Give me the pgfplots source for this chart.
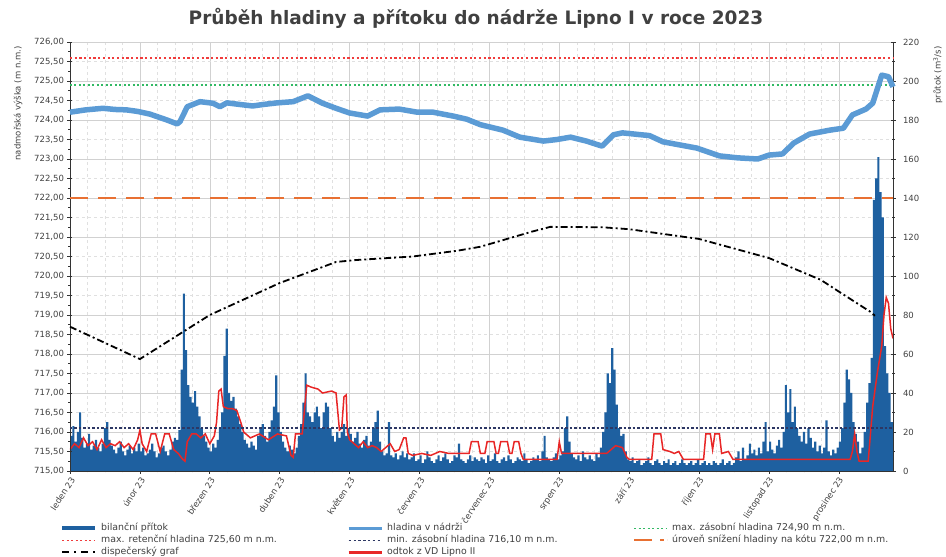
\documentclass[border=0pt]{standalone}
\usepackage{fontspec}
\setmainfont{DejaVu Sans}
\usepackage{pgfplots}
\pgfplotsset{compat=1.18}
\definecolor{barblue}{RGB}{30,96,160}
\definecolor{levelblue}{RGB}{91,155,213}
\definecolor{redline}{RGB}{232,38,38}
\definecolor{orangeln}{RGB}{232,112,50}
\definecolor{greendot}{RGB}{50,185,100}
\definecolor{reddot}{RGB}{240,60,60}
\definecolor{navydot}{RGB}{45,55,100}
\definecolor{txtgray}{RGB}{64,64,64}
\begin{document}
\color{txtgray}%
\begin{tikzpicture}
\path[use as bounding box] (-70pt,-86pt) rectangle (876pt,471pt);
% ---------------- right axis: inflow bars and outflow line ----------------
\begin{axis}[
  scale only axis, width=823pt, height=429pt,
  xmin=0, xmax=365, ymin=0, ymax=220,
  axis x line*=bottom, axis y line*=right,
  xtick={0,31,62,93,124,155,186,217,248,279,310,341},
  xticklabels={leden 23,únor 23,březen 23,duben 23,květen 23,červen 23,červenec 23,srpen 23,září 23,říjen 23,listopad 23,prosinec 23},
  minor x tick num=3,
  ytick={0,20,40,60,80,100,120,140,160,180,200,220},
  minor y tick num=1,
  grid=both,
  major grid style={black!18, line width=0.4pt},
  minor grid style={black!12, dashed, line width=0.4pt},
  tick align=center,
  major tick length=5pt, minor tick length=3pt,
  tick style={black!80, line width=0.6pt},
  axis line style={black!80, line width=0.8pt},
  /pgf/number format/assume math mode=true,
  yticklabel style={font=\fontsize{8.5}{10}\selectfont, anchor=west, xshift=4pt},
  xticklabel style={font=\fontsize{8.5}{10}\selectfont, rotate=57, anchor=east, xshift=1pt, yshift=-5pt},
  clip=true,
]
\addplot[ybar, bar width=0.95, bar shift=0pt, fill=barblue, draw=none]
 table[header=false, row sep=\\, x expr=\coordindex+0.5, y index=0] {
18\\23\\15\\20\\30\\17\\12\\14\\19\\11\\13\\16\\12\\10\\14\\22\\25\\16\\13\\11\\9\\12\\15\\10\\8\\11\\13\\9\\12\\10\\14\\
10\\12\\8\\9\\11\\14\\10\\7\\9\\12\\13\\10\\8\\11\\15\\17\\16\\21\\52\\91\\62\\44\\38\\35\\41\\33\\28\\22\\
18\\15\\12\\10\\14\\12\\16\\22\\30\\59\\73\\40\\36\\38\\32\\28\\24\\20\\16\\14\\12\\15\\13\\11\\18\\22\\24\\18\\15\\20\\26\\
33\\49\\30\\20\\15\\12\\10\\13\\11\\9\\12\\18\\24\\35\\50\\30\\28\\25\\30\\33\\28\\22\\30\\35\\33\\22\\18\\15\\20\\17\\
20\\24\\18\\22\\19\\15\\17\\20\\14\\12\\16\\18\\13\\15\\22\\25\\31\\15\\10\\8\\9\\25\\8\\7\\9\\6\\8\\10\\7\\9\\6\\
7\\9\\5\\6\\8\\4\\6\\10\\7\\5\\4\\6\\8\\5\\7\\9\\6\\4\\5\\8\\7\\14\\6\\5\\4\\6\\8\\5\\7\\6\\
5\\7\\6\\4\\8\\5\\6\\9\\5\\4\\6\\7\\5\\8\\6\\4\\5\\7\\6\\5\\9\\6\\4\\5\\7\\6\\8\\5\\10\\18\\7\\
6\\5\\7\\9\\6\\8\\10\\22\\28\\15\\9\\7\\6\\8\\5\\10\\7\\6\\8\\6\\5\\9\\7\\12\\20\\30\\50\\45\\63\\52\\34\\
22\\18\\19\\10\\6\\5\\7\\4\\5\\6\\3\\4\\5\\7\\4\\3\\5\\6\\4\\3\\5\\4\\6\\3\\4\\5\\3\\4\\6\\4\\
3\\4\\5\\3\\4\\6\\3\\4\\5\\3\\4\\3\\5\\4\\3\\4\\6\\3\\4\\5\\3\\4\\7\\10\\5\\12\\6\\8\\14\\9\\11\\
8\\12\\9\\15\\25\\10\\15\\11\\9\\13\\16\\12\\20\\44\\30\\42\\25\\33\\22\\18\\15\\20\\14\\22\\17\\12\\15\\10\\13\\9\\
12\\26\\10\\8\\11\\9\\12\\15\\22\\35\\52\\47\\40\\25\\19\\15\\9\\12\\20\\35\\45\\58\\139\\150\\161\\143\\130\\64\\50\\40\\25\\
};
\addplot[redline, line width=1.5pt] coordinates {
(0,11) (2,14) (4,12) (6,17) (8,13) (10,15) (12,11) (14,16) (16,12) (18,14) (20,13) (22,15) (24,12) (26,14) (28,11) (30,16) (31,21)
(32,14) (34,10) (36,19) (38,19) (40,10) (42,19) (44,19) (46,11) (48,9) (50,6) (51,5) (52,15) (54,19) (56,19) (58,17) (60,19) (62,14) (64,18)
(65,25) (66,41) (67,42) (68,33) (70,32) (72,32) (74,31) (76,24) (77,20) (80,17) (84,19) (88,16) (92,19) (96,18) (98,8) (99,7) (100,19) (103,19)
(105,44) (107,43) (110,42) (112,40) (116,41) (118,40) (119.5,21) (120.5,22) (121.5,38) (122.5,39) (123,20) (124,16) (126,14) (128,12) (130,15)
(132,12) (134,13) (136,12) (138,10) (140,12) (142,14) (144,10) (146,11) (148,17) (149,17) (150,9) (152,8) (156,9) (160,8) (164,10) (168,9) (172,9)
(177,9) (178,15) (181,15) (182,9) (184,9) (185,15) (188,15) (189,9) (190,9) (191,15) (194,15) (195,9) (196,9) (197,15) (199,15) (200,9) (201,6)
(216,6) (217,15) (218,9) (223,9) (230,9) (238,9) (242,13) (245,12) (247,7) (248,6) (258,6) (259,19) (262,19) (263,11) (266,10) (268,9) (270,10)
(272,6) (281,6) (282,19) (284,19) (285,11) (286,19) (288,19) (289,9) (292,10) (294,6) (346,6) (347,10) (348,19) (349,10) (350,5) (354,5)
(356,33) (358,50) (360,64) (361,80) (362,89) (363,86) (364,73) (365,68)
};
\end{axis}
% ---------------- left axis: water levels ----------------
\begin{axis}[
  scale only axis, width=823pt, height=429pt,
  xmin=0, xmax=365, ymin=715, ymax=726,
  axis x line=none, axis y line*=left,
  ytick={715,715.5,716,716.5,717,717.5,718,718.5,719,719.5,720,720.5,721,721.5,722,722.5,723,723.5,724,724.5,725,725.5,726},
  minor y tick num=1,
  tick align=center,
  major tick length=5pt, minor tick length=3pt,
  tick style={black!80, line width=0.6pt},
  axis line style={black!80, line width=0.8pt},
  /pgf/number format/assume math mode=true,
  yticklabel style={font=\fontsize{8.5}{10}\selectfont,
    /pgf/number format/.cd, fixed, fixed zerofill, precision=2, use comma, 1000 sep={}},
  clip=false,
  legend columns=3,
  legend cell align=left,
  legend image code/.code={\draw[#1] (0pt,0pt) -- (33pt,0pt);},
  legend style={at={(-0.01215,-0.1210)}, anchor=north west, draw=none, fill=none,
    inner sep=0pt, column sep=3pt, row sep=1.5pt,
    font=\fontsize{9.4}{10}\selectfont,
    nodes={inner sep=1pt, text height=6.5pt, text depth=2pt}},
]
\addplot[forget plot, color=greendot, solid, line width=1.7pt, dash pattern=on 2pt off 2.5pt] coordinates {(0,724.9) (365,724.9)};
\addplot[forget plot, color=reddot, solid, line width=1.9pt, dash pattern=on 2.2pt off 2.5pt] coordinates {(0,725.6) (365,725.6)};
\addplot[forget plot, color=navydot, solid, line width=1.3pt, dash pattern=on 2.5pt off 2pt] coordinates {(0,716.1) (365,716.1)};
\addplot[forget plot, color=orangeln, solid, line width=2pt, dash pattern=on 18pt off 10pt] coordinates {(0,722.0) (365,722.0)};
\addplot[forget plot, color=black, solid, line width=1.8pt, dash pattern=on 7pt off 3pt on 2pt off 3pt] coordinates {
(0,718.70) (31,717.87) (62,719.0) (93,719.82) (118,720.36) (127,720.41) (152,720.50) (172,720.65) (182,720.75)
(205,721.14) (213,721.26) (236,721.25) (248,721.2) (279,720.95) (310,720.46) (333,719.9) (341,719.6) (355,719.08) (357,718.98)
};
\addplot[forget plot, color=levelblue, solid, line width=5.5pt, line join=round] coordinates {
(0,724.20) (7,724.26) (14.6,724.30) (20,724.27) (25,724.26) (30,724.22) (35.5,724.15) (43,724.0) (47.5,723.9) (48.8,723.96) (52,724.34)
(57.6,724.47) (63.4,724.43) (66.5,724.34) (69.6,724.44) (75,724.40) (81,724.36) (86,724.40) (92,724.44) (99,724.47) (105.5,724.62)
(112,724.43) (118,724.30) (124,724.18) (132,724.10) (137.5,724.26) (146,724.28) (154,724.20) (161,724.20) (170,724.10) (176,724.02)
(182,723.88) (192,723.74) (199.5,723.56) (210,723.46) (216,723.50) (222,723.56) (229,723.46) (236,723.33) (241,723.62) (245,723.67)
(257,723.60) (263,723.44) (278,723.28) (288,723.08) (296,723.03) (305,723.00) (310,723.10) (316,723.13) (321,723.41) (328,723.64)
(337,723.74) (343,723.79) (347,724.13) (353,724.28) (356,724.43) (360,725.15) (363,725.11) (365,724.85)
};
\addlegendimage{color=barblue, solid, line width=4pt}
\addlegendentry{\makebox[242pt][l]{bilanční přítok}}
\addlegendimage{color=levelblue, solid, line width=3pt}
\addlegendentry{\makebox[242pt][l]{hladina v nádrži}}
\addlegendimage{color=greendot, solid, line width=1.7pt, dash pattern=on 2pt off 2.5pt}
\addlegendentry{max. zásobní hladina 724,90 m n.m.}
\addlegendimage{color=reddot, solid, line width=1.7pt, dash pattern=on 2pt off 2.5pt}
\addlegendentry{\makebox[242pt][l]{max. retenční hladina 725,60 m n.m.}}
\addlegendimage{color=navydot, solid, line width=1.6pt, dash pattern=on 2.4pt off 2.4pt}
\addlegendentry{\makebox[242pt][l]{min. zásobní hladina 716,10 m n.m.}}
\addlegendimage{color=orangeln, solid, line width=2pt, dash pattern=on 18pt off 8pt on 4pt off 3pt}
\addlegendentry{úroveň snížení hladiny na kótu 722,00 m n.m.}
\addlegendimage{color=black, solid, line width=2pt, dash pattern=on 7pt off 5pt on 2pt off 5pt}
\addlegendentry{\makebox[242pt][l]{dispečerský graf}}
\addlegendimage{color=redline, solid, line width=2.5pt}
\addlegendentry{\makebox[242pt][l]{odtok z VD Lipno II}}
\end{axis}
\node[font=\bfseries\fontsize{18.5}{20}\selectfont] at (406pt,453pt) {Průběh hladiny a přítoku do nádrže Lipno I v roce 2023};
\node[rotate=90, anchor=east, font=\fontsize{8.5}{10}\selectfont] at (-52pt,428pt) {nadmořská výška (m n.m.)};
\node[rotate=90, anchor=east, font=\fontsize{8.5}{10}\selectfont] at (868pt,428pt) {průtok (m\textsuperscript{3}/s)};
\end{tikzpicture}
\end{document}
